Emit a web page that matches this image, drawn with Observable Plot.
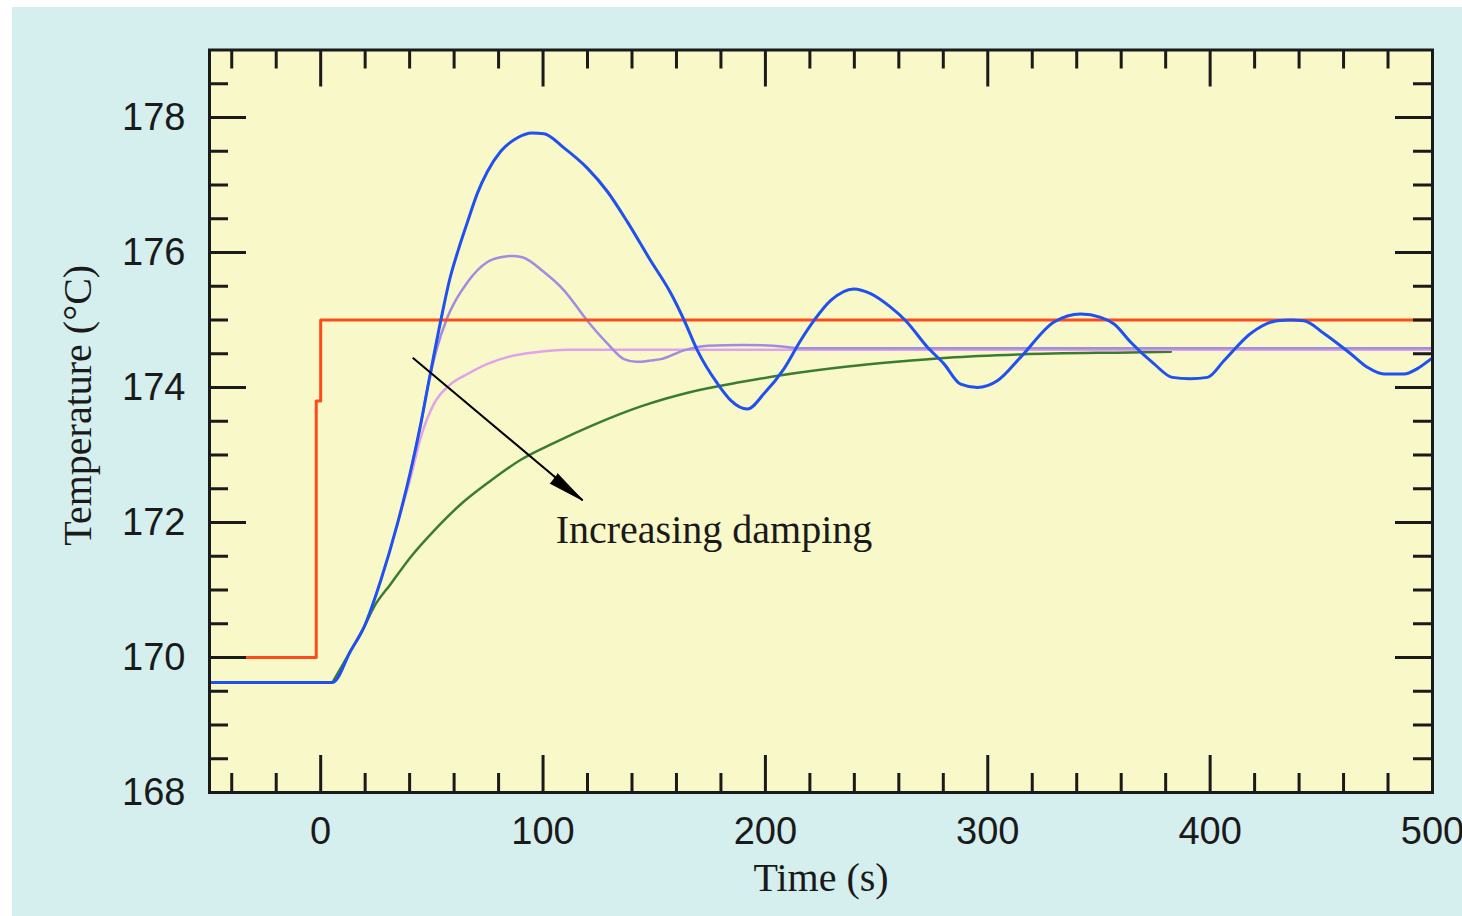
<!DOCTYPE html>
<html>
<head>
<meta charset="utf-8">
<script src="https://cdn.jsdelivr.net/npm/d3@7"></script>
<script src="https://cdn.jsdelivr.net/npm/@observablehq/plot@0.6"></script>
<style>
  html, body { margin: 0; padding: 0; background: #ffffff; }
  #panel { position: absolute; left: 12px; top: 7px; width: 1450px; height: 909px; background: #d5eeee; }
  #panel svg { display: block; }
</style>
</head>
<body>
<div id="panel"></div>
<script>
// ---- data ----
const setpointTime = [-50, -2, -2, 0, 0, 500];
const setpointTemp = [170, 170, 173.8, 173.8, 175, 175];

const blueTime = [-50, 5.3, 13.5, 19.5, 27, 34.5, 40.5, 45, 48.7, 54, 58, 62, 66, 70.5, 75, 81, 88.5, 95, 100.4, 109.4, 119.9, 129, 138, 148, 157.4, 163.4, 169.4, 178.4, 184.4, 191.9, 199.4, 208.4, 215.9, 221.8, 229.4, 239.8, 247.3, 256.3, 263.1, 272.8, 280.3, 287.8, 295.3, 304.3, 314.8, 329.8, 341.8, 350.8, 356.8, 364.3, 374.8, 383, 391, 398.8, 406.3, 418.2, 430.2, 436, 442.2, 451.2, 463.2, 470.7, 478.2, 487.2, 493.2, 499.2];
const blueTemp = [169.63, 169.63, 170.10, 170.45, 171.14, 171.98, 172.77, 173.46, 174.10, 174.99, 175.6, 176.05, 176.45, 176.88, 177.2, 177.5, 177.7, 177.77, 177.76, 177.55, 177.25, 176.9, 176.45, 175.9, 175.4, 175.0, 174.55, 174.06, 173.81, 173.68, 173.91, 174.28, 174.70, 174.99, 175.29, 175.46, 175.39, 175.19, 174.99, 174.60, 174.35, 174.05, 174.00, 174.10, 174.45, 174.97, 175.09, 175.04, 174.94, 174.67, 174.35, 174.15, 174.13, 174.15, 174.40, 174.80, 174.99, 175.0, 174.99, 174.80, 174.50, 174.30, 174.20, 174.20, 174.28, 174.42];

const lavenderTime = [40.5, 45, 48.7, 52, 57, 66, 75, 81, 86, 90.7, 100.4, 109.4, 119.9, 129, 136.4, 142, 148.4, 153, 163.4, 173.9, 190, 203.7, 215.9, 500];
const lavenderTemp = [172.77, 173.46, 174.10, 174.55, 175.04, 175.56, 175.86, 175.93, 175.95, 175.93, 175.71, 175.44, 174.99, 174.65, 174.42, 174.38, 174.40, 174.42, 174.55, 174.62, 174.63, 174.62, 174.58, 174.58];

const pinkTime = [34.5, 40.5, 45, 51, 58.5, 66, 75, 84, 96, 111, 148, 500];
const pinkTemp = [171.98, 172.67, 173.26, 173.76, 174.05, 174.20, 174.35, 174.45, 174.52, 174.56, 174.56, 174.56];

const greenTime = [5.3, 13.5, 19.5, 24, 31.5, 40.5, 51, 63, 76.5, 90, 105, 123, 144, 166, 189, 207, 237, 259, 282, 315, 364, 382.3];
const greenTemp = [169.63, 170.10, 170.45, 170.75, 171.09, 171.49, 171.88, 172.27, 172.62, 172.93, 173.18, 173.45, 173.72, 173.93, 174.08, 174.18, 174.31, 174.38, 174.44, 174.49, 174.52, 174.53];

const xTickLabels = [0, 100, 200, 300, 400, 500];
const xMajorTicks = [0, 100, 200, 300, 400, 500];
const xMinorTicks = [-40, -20, 20, 40, 60, 80, 120, 140, 160, 180, 220, 240, 260, 280, 320, 340, 360, 380, 420, 440, 460, 480];
const yTickLabels = [168, 170, 172, 174, 176, 178];
const yMajorTicks = [168, 170, 172, 174, 176, 178];
const yMinorTicks = [168.5, 169, 169.5, 170.5, 171, 171.5, 172.5, 173, 173.5, 174.5, 175, 175.5, 176.5, 177, 177.5, 178.5];

const annotationText = ["Increasing damping"];
const annotationPos = [{x: 105.7, y: 171.69}];
const arrowFrom = {x: 41.4, y: 174.44};
const arrowTo = {x: 117.8, y: 172.33};

const xLabel = "Time (s)";
const yLabel = "Temperature (°C)";

// ---- build ----
const toRows = (t, v) => t.map((d, i) => ({t: d, v: v[i]}));
const setpoint = toRows(setpointTime, setpointTemp);
const blue = toRows(blueTime, blueTemp);
const lavender = toRows(lavenderTime, lavenderTemp);
const pink = toRows(pinkTime, pinkTemp);
const green = toRows(greenTime, greenTemp);

const W = 1450, H = 909;
const mL = 197, mR = 30, mT = 42.5, mB = 124;
const plotW = W - mL - mR, plotH = H - mT - mB;
const major = 37, minor = 19;
const ink = "#1a1a1a";
const sans = "'Liberation Sans', Arial, sans-serif";
const serif = "'Liberation Serif', 'Times New Roman', serif";

const chart = Plot.plot({
  width: W, height: H,
  marginLeft: mL, marginRight: mR, marginTop: mT, marginBottom: mB,
  style: {background: "transparent", fontFamily: sans, overflow: "visible"},
  x: {domain: [-50, 500]},
  y: {domain: [168, 179]},
  marks: [
    Plot.frame({fill: "#f8f8c8"}),
    Plot.line(green, {x: "t", y: "v", stroke: "#3c7c30", strokeWidth: 2.5, curve: "monotone-x"}),
    Plot.line(pink, {x: "t", y: "v", stroke: "#e2a2ea", strokeWidth: 2.5, curve: "monotone-x"}),
    Plot.line(lavender, {x: "t", y: "v", stroke: "#a08ce0", strokeWidth: 2.5, curve: "monotone-x"}),
    Plot.line(setpoint, {x: "t", y: "v", stroke: "#ff4a1a", strokeWidth: 3, curve: "linear"}),
    Plot.line(blue, {x: "t", y: "v", stroke: "#2050ee", strokeWidth: 3, curve: "monotone-x"}),
    // inward ticks on all four sides
    Plot.tickX(xMajorTicks, {x: d => d, insetTop: plotH - major, stroke: ink, strokeWidth: 3}),
    Plot.tickX(xMinorTicks, {x: d => d, insetTop: plotH - minor, stroke: ink, strokeWidth: 3}),
    Plot.tickX(xMajorTicks, {x: d => d, insetBottom: plotH - major, stroke: ink, strokeWidth: 3}),
    Plot.tickX(xMinorTicks, {x: d => d, insetBottom: plotH - minor, stroke: ink, strokeWidth: 3}),
    Plot.tickY(yMajorTicks, {y: d => d, insetRight: plotW - major, stroke: ink, strokeWidth: 3}),
    Plot.tickY(yMinorTicks, {y: d => d, insetRight: plotW - minor, stroke: ink, strokeWidth: 3}),
    Plot.tickY(yMajorTicks, {y: d => d, insetLeft: plotW - major, stroke: ink, strokeWidth: 3}),
    Plot.tickY(yMinorTicks, {y: d => d, insetLeft: plotW - minor, stroke: ink, strokeWidth: 3}),
    Plot.frame({stroke: ink, strokeWidth: 3}),
    Plot.axisX({ticks: xTickLabels, tickSize: 0, tickPadding: 25, fontSize: 38, fill: ink, label: null}),
    Plot.axisY({ticks: yTickLabels, tickSize: 0, tickPadding: 24, fontSize: 38, fill: ink, label: null}),
    Plot.text([xLabel], {frameAnchor: "bottom", dy: 86, text: d => d, fontSize: 40, fontFamily: serif, fill: ink, textAnchor: "middle", lineAnchor: "middle"}),
    Plot.text([yLabel], {frameAnchor: "left", dx: -131, dy: -16, rotate: -90, text: d => d, fontSize: 40, fontFamily: serif, fill: ink, textAnchor: "middle", lineAnchor: "middle"}),
    Plot.text(annotationPos, {x: "x", y: "y", text: () => annotationText[0], textAnchor: "start", lineAnchor: "bottom", fontSize: 40, fontFamily: serif, fill: ink}),
    Plot.link([{x1: arrowFrom.x, y1: arrowFrom.y, x2: arrowTo.x, y2: arrowTo.y}], {x1: "x1", y1: "y1", x2: "x2", y2: "y2", stroke: "#000", strokeWidth: 2}),
    Plot.vector([arrowTo], {x: "x", y: "y", length: 36, rotate: 127, shape: "spike", r: 6, anchor: "end", fill: "#000", stroke: "#000", strokeWidth: 1})
  ]
});
document.getElementById("panel").appendChild(chart);
</script>
</body>
</html>
